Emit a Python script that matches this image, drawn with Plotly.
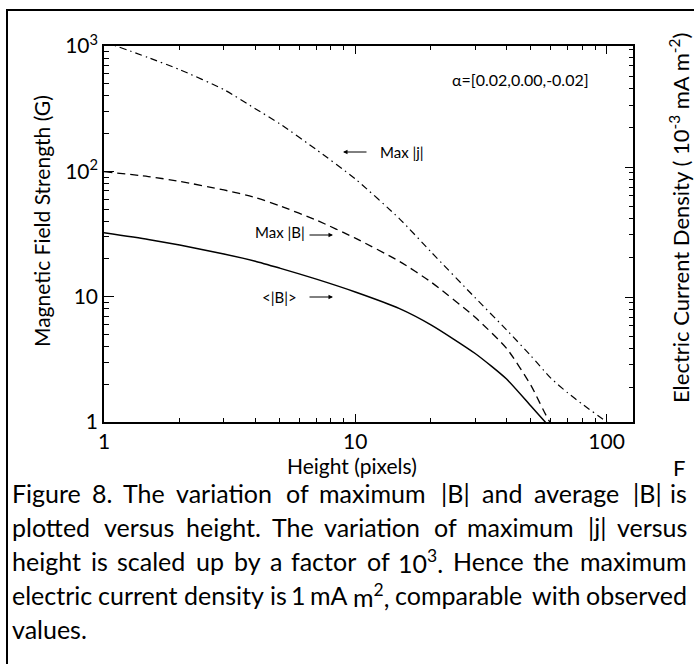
import math
import re
import plotly.graph_objects as go

# ---------------- data ----------------
height_avg_B = [1, 1.5, 2, 3, 4, 5, 7, 10, 15, 20, 30, 40, 50, 57, 62]
avg_B = [32.3, 28.6, 25.8, 21.9, 19.2, 16.9, 13.8, 10.9, 8.03, 5.96, 3.52, 2.20, 1.34, 1.0, 0.83]

height_max_B = [1, 1.5, 2, 3, 4, 5, 7, 10, 15, 20, 30, 40, 50, 59.5, 64]
max_B = [99.3, 90.9, 83.2, 71.0, 61.9, 53.1, 40.8, 29.3, 19.1, 13.1, 6.84, 3.87, 1.96, 1.0, 0.88]

height_max_j = [1, 1.5, 2, 3, 4, 5, 7, 10, 15, 20, 30, 40, 50, 60, 70, 80, 100, 110]
max_j_scaled = [1084, 808, 648, 449, 316, 240, 149, 87, 41.8, 22.8, 9.8, 5.43, 3.37, 2.24, 1.71, 1.39, 1.0, 0.85]

x_tick_vals = [1, 10, 100]
x_tick_text = ["1", "10", "100"]
y_tick_vals = [1, 10, 100, 1000]
y_tick_text = ["1", "10", "10<sup>2</sup>", "10<sup>3</sup>"]
minor_vals = [m * 10 ** d for d in range(0, 3) for m in range(2, 10)]

caption_lines = [
    ["Figure", "8.", "The", "variation", "of", "maximum", "|B|", "and", "average", "|B|", "is"],
    ["plotted", "versus", "height.", "The", "variation", "of", "maximum", "|j|", "versus"],
    ["height", "is", "scaled", "up", "by", "a", "factor", "of", "10<sup>3</sup>.", "Hence", "the", "maximum"],
    ["electric", "current", "density", "is", "1", "mA", "m<sup>2</sup>,", "comparable", "with", "observed"],
    ["values."],
]

# ---------------- layout helpers (pixel -> paper) ----------------
W, H = 694, 664
L, R, T, B = 104, 633, 46, 422


def px(x):
    return (x - L) / (R - L)


def py(y):
    return (B - y) / (B - T)


# rough glyph advance widths (em) used to justify the caption lines
GLYPH_W = {
    'a': .51, 'b': .57, 'c': .46, 'd': .57, 'e': .52, 'f': .32, 'g': .50, 'h': .56,
    'i': .24, 'j': .24, 'k': .50, 'l': .24, 'm': .84, 'n': .56, 'o': .57, 'p': .57,
    'q': .57, 'r': .36, 's': .42, 't': .35, 'u': .56, 'v': .50, 'w': .78, 'x': .48,
    'y': .50, 'z': .44, 'F': .53, 'T': .56, 'H': .72, 'B': .62, 'A': .66,
    '.': .22, ',': .22, '|': .28,
}


def word_width(word, size):
    sups = re.findall(r"<sup>(.*?)</sup>", word)
    base = re.sub(r"<sup>.*?</sup>", "", word)
    w = sum(GLYPH_W.get(c, .58) for c in base)
    w += sum(0.7 * GLYPH_W.get(c, .58) for s in sups for c in s)
    return 1.04 * w * size


CAP_SIZE = 25
CAP_LEFT, CAP_RIGHT = 10, 689
caption_y = [493, 527, 561, 595, 629]

AX_FONT = dict(family="Lato", size=21, color="black")
CAP_FONT = dict(family="Lato", size=CAP_SIZE, color="black")

fig = go.Figure()

fig.add_trace(go.Scatter(x=height_avg_B, y=avg_B, mode="lines",
                         line=dict(color="black", width=1.5, shape="spline", smoothing=0.6),
                         showlegend=False))
fig.add_trace(go.Scatter(x=height_max_B, y=max_B, mode="lines",
                         line=dict(color="black", width=1.3, dash="8px,5px", shape="spline", smoothing=0.6),
                         showlegend=False))
fig.add_trace(go.Scatter(x=height_max_j, y=max_j_scaled, mode="lines",
                         line=dict(color="black", width=1.2, dash="7px,4px,1.5px,4px",
                                   shape="spline", smoothing=0.6),
                         showlegend=False))
fig.add_trace(go.Scatter(x=[None], y=[None], yaxis="y2", showlegend=False, hoverinfo="skip"))

fig.update_layout(
    width=W, height=H,
    margin=dict(l=L, r=W - R, t=T, b=H - B, pad=0),
    paper_bgcolor="white", plot_bgcolor="white",
    xaxis=dict(
        type="log", range=[0, math.log10(127.4)],
        tickmode="array", tickvals=x_tick_vals, ticktext=x_tick_text,
        ticks="inside", ticklen=8, tickwidth=1, tickcolor="black",
        showline=True, linecolor="black", linewidth=1.5, mirror="ticks",
        showgrid=False, zeroline=False, tickfont=AX_FONT,
        minor=dict(tickmode="array", tickvals=minor_vals, ticks="inside",
                   ticklen=4, tickwidth=1, tickcolor="black", showgrid=False),
    ),
    yaxis=dict(
        type="log", range=[0, 3],
        tickmode="array", tickvals=y_tick_vals, ticktext=y_tick_text,
        ticks="inside", ticklen=10, tickwidth=1, tickcolor="black",
        showline=True, linecolor="black", linewidth=1.5, mirror=False,
        showgrid=False, zeroline=False, tickfont=AX_FONT,
        minor=dict(tickmode="array", tickvals=minor_vals, ticks="inside",
                   ticklen=5, tickwidth=1, tickcolor="black", showgrid=False),
    ),
    yaxis2=dict(
        type="log", range=[0.0385, 2.931], overlaying="y", side="right",
        tickmode="array", tickvals=[10, 100],
        ticks="inside", ticklen=8, tickwidth=1, tickcolor="black",
        showticklabels=False,
        showline=True, linecolor="black", linewidth=1.5,
        showgrid=False, zeroline=False,
        minor=dict(tickmode="array", tickvals=minor_vals, ticks="inside",
                   ticklen=4, tickwidth=1, tickcolor="black", showgrid=False),
    ),
)

ann = []
# axis titles
ann.append(dict(text="Height (pixels)", x=px(352), y=py(465), xref="paper", yref="paper",
                showarrow=False, font=AX_FONT, xanchor="center", yanchor="middle"))
ann.append(dict(text="Magnetic Field Strength (G)", x=px(41), y=py(221), xref="paper", yref="paper",
                showarrow=False, font=AX_FONT, textangle=-90, xanchor="center", yanchor="middle"))
ann.append(dict(text="Electric Current Density ( 10<sup>-3</sup> mA m<sup>-2</sup>)",
                x=px(679), y=py(218), xref="paper", yref="paper",
                showarrow=False, font=dict(family="Lato", size=22, color="black"),
                textangle=-90, xanchor="center", yanchor="middle"))
# in-plot labels
small = dict(family="Lato", size=15, color="black")
ann.append(dict(text="α=[0.02,0.00,-0.02]", x=px(520), y=py(79), xref="paper", yref="paper",
                showarrow=False, font=dict(family="Lato", size=16, color="black"),
                xanchor="center", yanchor="middle"))
ann.append(dict(text="Max |j|", x=px(378), y=py(152), xref="paper", yref="paper",
                showarrow=False, font=small, xanchor="left", yanchor="middle"))
ann.append(dict(text="Max |B|", x=px(253), y=py(232), xref="paper", yref="paper",
                showarrow=False, font=small, xanchor="left", yanchor="middle"))
ann.append(dict(text="&lt;|B|&gt;", x=px(260), y=py(297), xref="paper", yref="paper",
                showarrow=False, font=small, xanchor="left", yanchor="middle"))
# arrows
for hx, hy, dx in [(343, 152, 25), (333, 235, -25), (333, 297, -25)]:
    ann.append(dict(text="", x=px(hx), y=py(hy), xref="paper", yref="paper",
                    ax=dx, ay=0, showarrow=True, arrowhead=2, arrowsize=0.9,
                    arrowwidth=1, arrowcolor="black", standoff=0, startstandoff=0))
# caption, justified word by word
for li, (words, yy) in enumerate(zip(caption_lines, caption_y)):
    n = len(words)
    widths = [word_width(w, CAP_SIZE) for w in words]
    justify = li < len(caption_lines) - 1 and n > 1
    gap = (CAP_RIGHT - CAP_LEFT - sum(widths)) / (n - 1) if justify else 0.19 * CAP_SIZE
    xx = CAP_LEFT
    for i, w in enumerate(words):
        last = justify and i == n - 1
        ann.append(dict(text=w, x=px(CAP_RIGHT if last else xx), y=py(yy),
                        xref="paper", yref="paper", showarrow=False, font=CAP_FONT,
                        xanchor="right" if last else "left", yanchor="middle"))
        xx += widths[i] + gap
ann.append(dict(text="F", x=px(679), y=py(467), xref="paper", yref="paper",
                showarrow=False, font=dict(family="Lato", size=22, color="black"),
                xanchor="center", yanchor="middle"))

fig.update_layout(annotations=ann)

fig.add_shape(type="rect", xref="paper", yref="paper",
              x0=px(7), x1=px(705), y0=py(690), y1=py(10),
              line=dict(color="black", width=2), fillcolor="rgba(0,0,0,0)", layer="above")

fig.write_html("out.html", config={"displayModeBar": False},
               post_script="document.body.style.margin='0px';")
